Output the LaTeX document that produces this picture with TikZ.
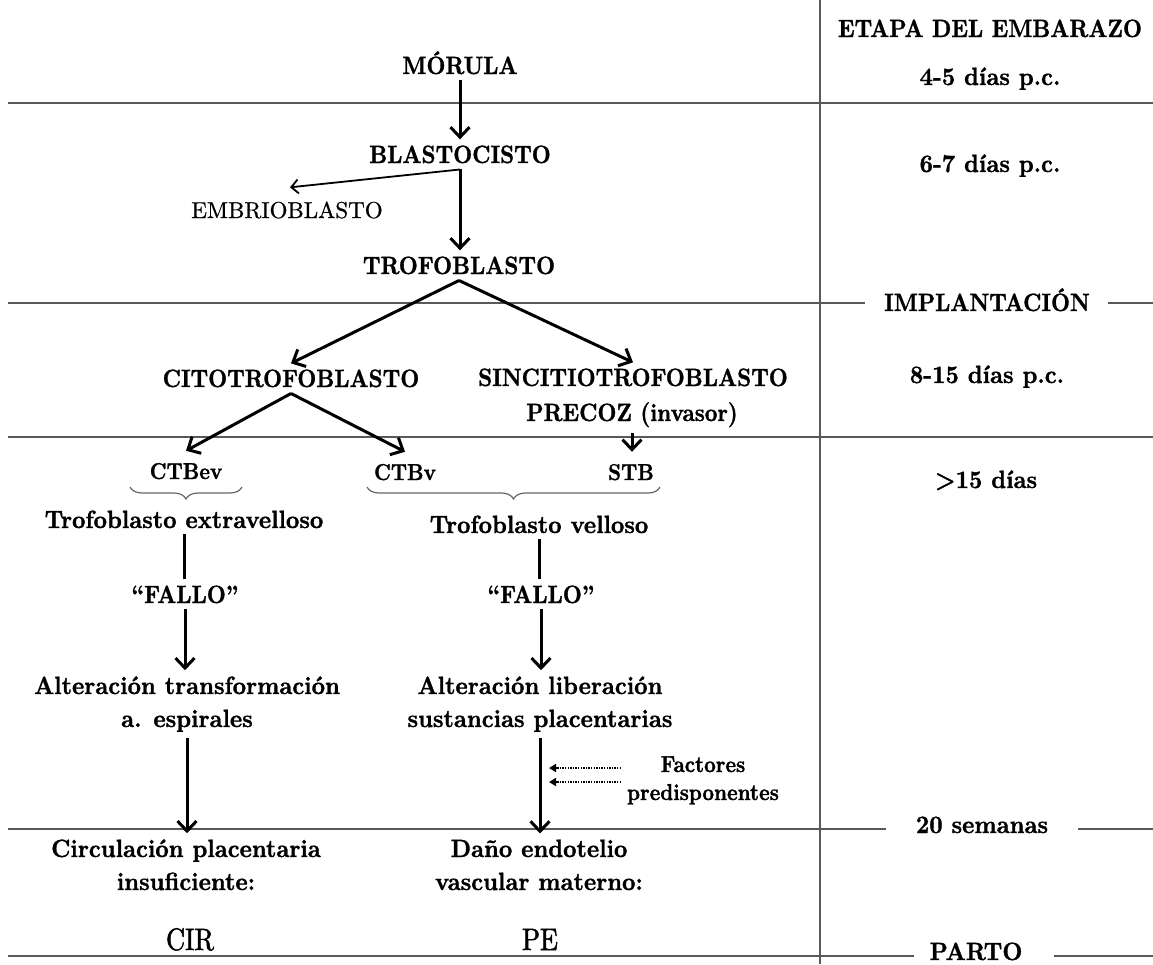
\documentclass[tikz,border=0pt]{standalone}
\usepackage{fontspec}
\newfontfamily\cnd{lmroman10-regular.otf}[FakeStretch=0.88, BoldFont=lmroman10-bold.otf, BoldFeatures={FakeBold=1.2}]
\newfontfamily\cndb{lmroman10-regular.otf}[FakeStretch=0.93, BoldFont=lmroman10-bold.otf, BoldFeatures={FakeBold=1.2}]
\newfontfamily\rgl{lmroman10-regular.otf}[FakeBold=0.8]
\newfontfamily\rglc{lmroman10-regular.otf}[FakeStretch=0.85, FakeBold=1.6]
\usetikzlibrary{arrows.meta,decorations.pathreplacing}
\begin{document}
\begin{tikzpicture}[x=1pt,y=1pt,
  lbl/.style={anchor=base, inner sep=6pt, font=\cnd\bfseries\fontsize{25}{35}\selectfont},
  lblw/.style={lbl, font=\cndb\bfseries\fontsize{25}{35}\selectfont},
  lblm/.style={lbl, font=\cnd\bfseries\fontsize{23}{29}\selectfont},
  lbll/.style={lbl, align=center, font=\cndb\bfseries\fontsize{25}{33}\selectfont},
  lblr/.style={lbl, font=\rgl\fontsize{23}{28}\selectfont},
  lblbig/.style={lbl, font=\rglc\fontsize{31}{34}\selectfont},
  rule/.style={draw=black!65, line width=1.4pt},
  arr/.style={line width=3pt, -{Straight Barb[length=10pt,width=19pt]}},
  link/.style={line width=3pt},
  thinarr/.style={line width=1.8pt, -{Straight Barb[length=7pt,width=14pt]}},
  dotarr/.style={line width=2pt, dash pattern=on 1.3pt off 1.3pt, -{Triangle[length=7pt,width=8pt]}},
  brc/.style={draw=black!60, line width=1.2pt, decorate, decoration={brace, amplitude=12pt}},
]
\useasboundingbox (0,0) rectangle (1153,-964);

% stage grid
\draw[rule] (820,0) -- (820,-964);
\draw[rule] (8,-103) -- (1153,-103);
\draw[rule] (8,-303) -- (865,-303);
\draw[rule] (1108,-303) -- (1153,-303);
\draw[rule] (8,-437) -- (1153,-437);
\draw[rule] (8,-829) -- (886,-829);
\draw[rule] (1078,-829) -- (1153,-829);
\draw[rule] (8,-956) -- (914,-956);
\draw[rule] (1054,-956) -- (1153,-956);

% stages of pregnancy
\node[lbl] (etapa) at (990,-37) {ETAPA DEL EMBARAZO};
\node[lblw] (d45) at (990,-85) {4-5 días p.c.};
\node[lblw] (d67) at (990,-172) {6-7 días p.c.};
\node[lbl] (impl) at (987,-311) {IMPLANTACIÓN};
\node[lblw] (d815) at (987,-383) {8-15 días p.c.};
\node[lblw] (d15) at (986,-488) {>15 días};
\node[lblw] (sem) at (982,-833) {20 semanas};
\node[lblw, inner sep=1pt] (parto) at (976,-960) {PARTO};

% early development
\node[lbl] (mor) at (460,-74) {MÓRULA};
\node[lbl] (bla) at (460,-163) {BLASTOCISTO};
\node[lblr] (emb) at (287,-218) {EMBRIOBLASTO};
\node[lbl] (trof) at (459,-274) {TROFOBLASTO};
\node[lbl] (cito) at (291,-387) {CITOTROFOBLASTO};
\node[lbl] (sinc) at (633,-386) {SINCITIOTROFOBLASTO};
\node[lbl] (prec) at (632,-421) {PRECOZ (invasor)};

\node[lblm, inner sep=12pt] (ctbev) at (186,-479) {CTBev};
\node[lblm, inner sep=12pt] (ctbv) at (405,-480) {CTBv};
\node[lblm, inner sep=12pt] (stb) at (631,-480) {STB};

\node[lblw] (tev) at (184,-528) {Trofoblasto extravelloso};
\node[lblw] (tv) at (539,-533) {Trofoblasto velloso};

% failure pathways
\node[lbl] (fa1) at (185,-603) {“FALLO”};
\node[lbl] (fa2) at (541,-603) {“FALLO”};
\node[lbll] (alt1) at (187,-727) {Alteración transformación\\a. espirales};
\node[lbll] (alt2) at (540,-727) {Alteración liberación\\sustancias placentarias};
\node[lbll] (circ) at (186,-890) {Circulación placentaria\\insuficiente:};
\node[lbll] (dano) at (539,-890) {Daño endotelio\\vascular materno:};
\node[lblbig] (cir) at (190,-950) {CIR};
\node[lblbig] (pe) at (540,-950) {PE};
\node[lblm, align=center, font=\cnd\bfseries\fontsize{23}{28}\selectfont] (fac) at (703,-800) {Factores\\predisponentes};

% connectors
\draw[arr] (mor.south) -- (mor.south |- bla.north);
\draw[thinarr] (bla.south) -- ([xshift=3pt,yshift=8pt]emb.north);
\draw[arr] (bla.south) -- (bla.south |- trof.north);
\draw[arr] (trof.south) -- (cito.north);
\draw[arr] (trof.south) -- (sinc.north);
\draw[arr] (cito.south) -- (ctbev.north);
\draw[arr] (cito.south) -- (ctbv.north);
\draw[arr] (prec.south) -- (prec.south |- stb.north);

\draw[brc] (242,-487) -- (130,-487);
\draw[brc] (660,-487) -- (367,-487);

\draw[link] (tev.south) -- (tev.south |- fa1.north);
\draw[arr] (fa1.south) -- (fa1.south |- alt1.north);
\draw[arr] (alt1.south) -- (alt1.south |- circ.north);
\draw[link] (tv.south) -- (tv.south |- fa2.north);
\draw[arr] (fa2.south) -- (fa2.south |- alt2.north);
\draw[arr] (alt2.south) -- (alt2.south |- dano.north);

\coordinate (f1) at (549,-768);
\coordinate (f2) at (549,-782);
\draw[dotarr] (fac.west |- f1) -- (f1);
\draw[dotarr] (fac.west |- f2) -- (f2);
\end{tikzpicture}
\end{document}
